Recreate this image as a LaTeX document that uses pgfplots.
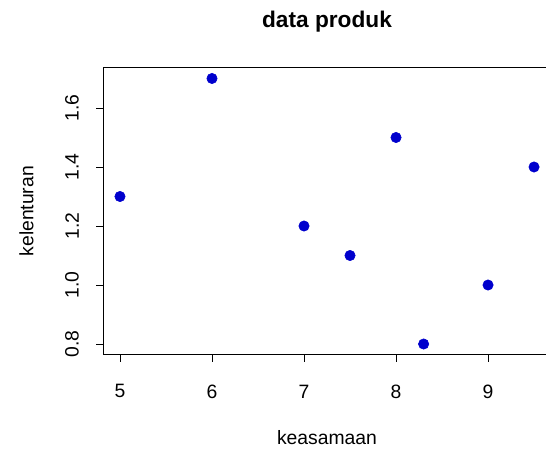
\documentclass[border=0pt]{standalone}
\usepackage{pgfplots}
\pgfplotsset{compat=1.18}
\usepackage{fontspec}
\setmainfont{Liberation Sans}
\definecolor{ptblue}{RGB}{0,0,205}
\begin{document}
\begin{tikzpicture}
\begin{axis}[
  x=69pt, y=221.25pt,
  xmin=4.82, xmax=9.68, ymin=0.764, ymax=1.736,
  axis line style={black, line width=0.6pt},
  xtick={5,6,7,8,9}, ytick={0.8,1.0,1.2,1.4,1.6},
  xtick pos=bottom, ytick pos=left,
  tick align=outside, major tick length=5.25pt,
  every tick/.style={black, line width=0.6pt},
  /pgf/number format/assume math mode=true,
  yticklabel style={/pgf/number format/fixed, /pgf/number format/fixed zerofill, /pgf/number format/precision=1},
  ticklabel style={font=\fontsize{14.5}{17}\selectfont},
  xticklabel style={anchor=center, yshift=-22.3pt},
  yticklabel style={xshift=-18.3pt, rotate=90, anchor=center},
  xlabel={keasamaan}, ylabel={kelenturan},
  label style={font=\fontsize{14.5}{17}\selectfont},
  xlabel style={at={(axis description cs:0.5,-0.289)}, anchor=center},
  ylabel style={at={(axis description cs:-0.172,0.5)}, anchor=center, rotate=0},
  title={data produk},
  title style={font=\fontsize{17}{20}\selectfont\bfseries, at={(axis description cs:0.5,1.132)}, anchor=center},
]
\addplot[only marks, mark=*, mark size=3.9pt, color=ptblue] coordinates {
(5,1.3) (6,1.7) (7,1.2) (7.5,1.1) (8,1.5) (8.3,0.8) (9,1.0) (9.5,1.4)
};
\coordinate (bl) at (axis cs:3.696,0.444);
\coordinate (tr) at (axis cs:9.630,1.966);
\end{axis}
\pgfresetboundingbox
\path[use as bounding box] (bl) rectangle (tr);
\end{tikzpicture}
\end{document}
